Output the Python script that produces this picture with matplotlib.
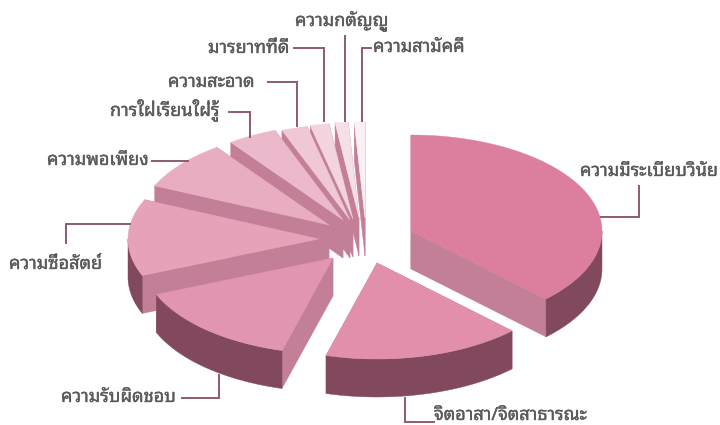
import numpy as np
import matplotlib
matplotlib.use("Agg")
import matplotlib.pyplot as plt
from matplotlib.patches import Polygon
import matplotlib.patheffects as pe

# values, in percent, clockwise from 12 o'clock
labels = ["ความมีระเบียบวินัย", "จิตอาสา/จิตสาธารณะ", "ความรับผิดชอบ", "ความซื่อสัตย์", "ความพอเพียง",
          "การใฝ่เรียนใฝ่รู้", "ความสะอาด", "มารยาทที่ดี", "ความกตัญญู", "ความสามัคคี"]
values = [37.5, 16.8, 14.5, 12.9, 8.3, 4.2, 2.2, 1.6, 1.1, 0.9]

# where each exploded slice has its tip, in picture pixels
tips_x = [411, 377, 333, 319, 329, 343, 350, 353, 359, 365]
tips_y = [231, 263, 258, 239, 225, 220, 220, 219, 218, 218]
top_colors = ["#dc7f9f", "#e18fab", "#e195b0", "#e5a2b9", "#e8adc1",
              "#ebb9cb", "#efc7d5", "#f2d3de", "#f6e0e8", "#fbf0f4"]
cut_color = "#c37f97"
rim_color = "#81485e"
line_color = "#8f5a70"
text_color = "#5a5a5a"

rx = 191
ry = 96
depth = 38

# label: left end of text and centre height, then the leader line
label_x = [580, 434, 61, 9, 47, 110, 168, 208, 295, 373]
label_y = [171, 415, 397, 264, 160, 111, 82, 48, 22, 47]
leader_x = [[601, 639, 639], [405, 405, 434], [219, 219, 182], [66, 66, 130], [152, 188],
            [229, 250, 250], [268, 297, 297], [294, 324, 324], [345, 345], [362, 362, 371]]
leader_y = [[217, 217, 186], [398, 422, 422], [375, 398, 398], [243, 224, 224], [161, 161],
            [112, 112, 137], [82, 82, 126], [48, 48, 121], [36, 121], [121, 48, 48]]


def rim_points(cx, cy, start, end):
    t = np.radians(np.linspace(start, end, 80))
    return cx + rx * np.sin(t), cy - ry * np.cos(t)


fig = plt.figure(figsize=(7.2, 4.25), dpi=100)
ax = fig.add_axes([0, 0, 1, 1])
ax.set_xlim(0, 720)
ax.set_ylim(425, 0)
ax.axis("off")

angles = np.array(values) / sum(values) * 360
ends = np.cumsum(angles)
starts = ends - angles

order = [9, 8, 7, 6, 5, 4, 3, 2, 0, 1]
for n, i in enumerate(order):
    cx, cy = tips_x[i], tips_y[i]
    xs, ys = rim_points(cx, cy, starts[i], ends[i])
    z = 2 + n
    # the two cut faces, the far one ends up hidden under the top
    for k in [0, -1]:
        ax.add_patch(Polygon([(cx, cy), (xs[k], ys[k]), (xs[k], ys[k] + depth), (cx, cy + depth)],
                             closed=True, fc=cut_color, ec=cut_color, lw=0.3, zorder=z))
    # outer wall only on the front half
    a = max(starts[i], 90)
    b = min(ends[i], 270)
    if a < b:
        wx, wy = rim_points(cx, cy, a, b)
        wall = list(zip(wx, wy)) + list(zip(wx[::-1], wy[::-1] + depth))
        ax.add_patch(Polygon(wall, closed=True, fc=rim_color, ec=rim_color, lw=0.3, zorder=z))
    top = [(cx, cy)] + list(zip(xs, ys))
    ax.add_patch(Polygon(top, closed=True, fc=top_colors[i], ec=top_colors[i], lw=0.3, zorder=z))

for i in range(len(labels)):
    ax.plot(leader_x[i], leader_y[i], color=line_color, lw=1.4, solid_joinstyle="miter", zorder=30)
    ax.text(label_x[i], label_y[i], labels[i], family=["Noto Sans Thai Looped", "Noto Sans Thai", "DejaVu Sans"],
            fontsize=13, color=text_color, ha="left", va="center", zorder=31,
            path_effects=[pe.withStroke(linewidth=0.25, foreground=text_color)])

fig.savefig("out.png", dpi=100)
